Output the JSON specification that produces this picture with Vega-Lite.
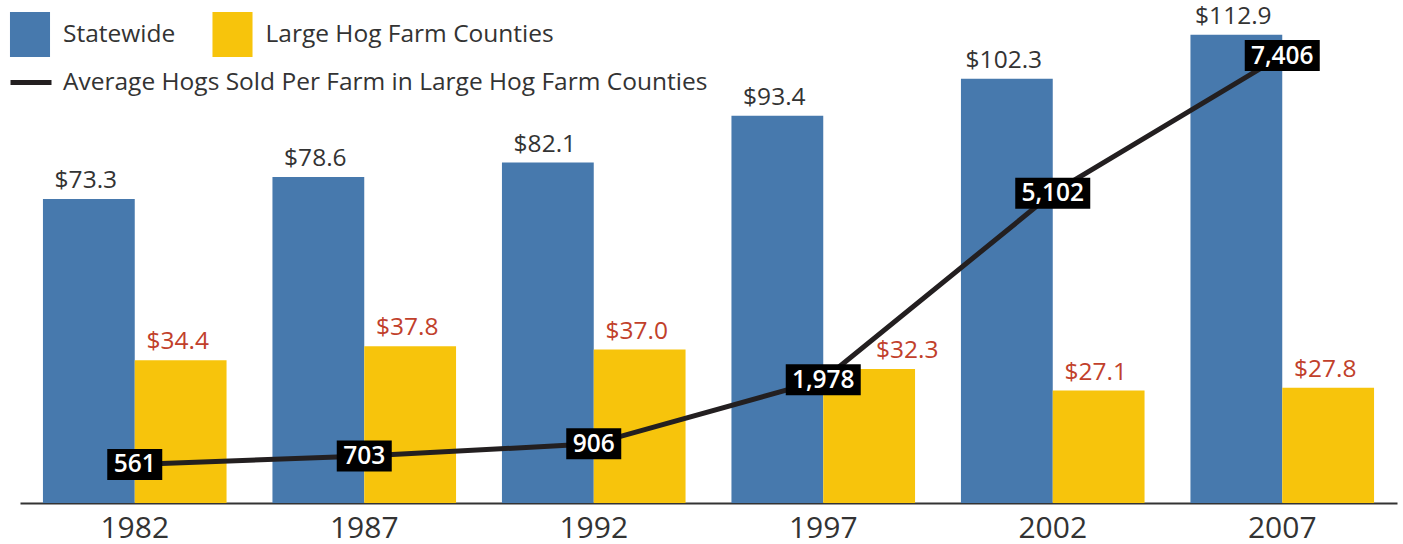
{
  "$schema": "https://vega.github.io/schema/vega-lite/v6.json",
  "width": 1377,
  "height": 503,
  "autosize": {"type": "none"},
  "padding": {"left": 20, "top": 0, "right": 6, "bottom": 41},
  "background": "white",
  "config": {
    "view": {"stroke": null},
    "font": "Open Sans",
    "legend": {"padding": 0, "titlePadding": 0}
  },
  "datasets": {
    "income": [
      {"year": "1982", "series": "Statewide", "value": 73.3},
      {"year": "1982", "series": "Large Hog Farm Counties", "value": 34.4},
      {"year": "1987", "series": "Statewide", "value": 78.6},
      {"year": "1987", "series": "Large Hog Farm Counties", "value": 37.8},
      {"year": "1992", "series": "Statewide", "value": 82.1},
      {"year": "1992", "series": "Large Hog Farm Counties", "value": 37.0},
      {"year": "1997", "series": "Statewide", "value": 93.4},
      {"year": "1997", "series": "Large Hog Farm Counties", "value": 32.3},
      {"year": "2002", "series": "Statewide", "value": 102.3},
      {"year": "2002", "series": "Large Hog Farm Counties", "value": 27.1},
      {"year": "2007", "series": "Statewide", "value": 112.9},
      {"year": "2007", "series": "Large Hog Farm Counties", "value": 27.8}
    ],
    "hogs": [
      {"year": "1982", "hogs": 561, "name": "Average Hogs Sold Per Farm in Large Hog Farm Counties"},
      {"year": "1987", "hogs": 703, "name": "Average Hogs Sold Per Farm in Large Hog Farm Counties"},
      {"year": "1992", "hogs": 906, "name": "Average Hogs Sold Per Farm in Large Hog Farm Counties"},
      {"year": "1997", "hogs": 1978, "name": "Average Hogs Sold Per Farm in Large Hog Farm Counties"},
      {"year": "2002", "hogs": 5102, "name": "Average Hogs Sold Per Farm in Large Hog Farm Counties"},
      {"year": "2007", "hogs": 7406, "name": "Average Hogs Sold Per Farm in Large Hog Farm Counties"}
    ]
  },
  "encoding": {
    "x": {
      "field": "year",
      "type": "nominal",
      "scale": {"paddingInner": 0.2, "paddingOuter": 0.1},
      "axis": {
        "title": null,
        "labelAngle": 0,
        "labelFontSize": 30,
        "labelColor": "#333333",
        "labelPadding": 10,
        "ticks": false,
        "tickSize": 0,
        "domainColor": "#333333",
        "domainWidth": 2,
        "grid": false
      }
    }
  },
  "layer": [
    {
      "data": {"name": "income"},
      "encoding": {
        "xOffset": {"field": "series", "type": "nominal", "sort": ["Statewide", "Large Hog Farm Counties"], "scale": {"paddingInner": 0, "paddingOuter": 0}},
        "y": {"field": "value", "type": "quantitative", "stack": null, "scale": {"domain": [0, 121.3], "nice": false, "zero": true}, "axis": null}
      },
      "layer": [
        {
          "mark": {"type": "bar"},
          "encoding": {
            "color": {
              "field": "series",
              "type": "nominal",
              "sort": ["Statewide", "Large Hog Farm Counties"],
              "scale": {"domain": ["Statewide", "Large Hog Farm Counties"], "range": ["#4779ad", "#f7c40c"]},
              "legend": {
                "title": null,
                "orient": "none",
                "direction": "horizontal",
                "legendX": -12.5,
                "legendY": 12,
                "symbolType": "M-0.89,-1H0.89V1H-0.89Z",
                "symbolSize": 2025,
                "symbolStrokeWidth": 0,
                "symbolOpacity": 1,
                "labelFontSize": 24.5,
                "labelFont": "Open Sans",
                "labelColor": "#333333",
                "labelOffset": 10.5,
                "columnPadding": 34.5,
                "labelLimit": 0
              }
            }
          }
        },
        {
          "mark": {
            "type": "text",
            "baseline": "alphabetic",
            "dy": -11,
            "dx": {"expr": "datum.year === '1997' && datum.series === 'Large Hog Farm Counties' ? 38 : -3"},
            "fontSize": 24.5,
            "font": "Open Sans"
          },
          "encoding": {
            "text": {"field": "value", "type": "quantitative", "format": "$.1f"},
            "color": {
              "condition": {"test": "datum.series === 'Statewide'", "value": "#333333"},
              "value": "#c1402b"
            }
          }
        }
      ]
    },
    {
      "data": {"name": "hogs"},
      "encoding": {
        "y": {"field": "hogs", "type": "quantitative", "scale": {"domain": [-84, 8335], "nice": false, "zero": false}, "axis": null}
      },
      "layer": [
        {
          "mark": {"type": "line", "strokeWidth": 5},
          "encoding": {
            "stroke": {
              "field": "name",
              "type": "nominal",
              "scale": {"range": ["#231f20"]},
              "legend": {
                "title": null,
                "orient": "none",
                "legendX": -12,
                "legendY": 59.5,
                "symbolType": "stroke",
                "symbolSize": 1681,
                "symbolStrokeWidth": 5,
                "labelFontSize": 24.5,
                "labelFont": "Open Sans",
                "labelColor": "#333333",
                "labelOffset": 9,
                "labelLimit": 0
              }
            }
          }
        },
        {
          "mark": {"type": "bar", "fill": "black", "yOffset": -15.5, "y2Offset": 15.5},
          "encoding": {
            "y2": {"field": "hogs"},
            "size": {"condition": {"test": "datum.hogs < 1000", "value": 55}, "value": 75}
          }
        },
        {
          "mark": {"type": "text", "baseline": "middle", "fontSize": 24.5, "fontWeight": 600, "font": "Open Sans", "fill": "white", "dy": 1},
          "encoding": {
            "text": {"field": "hogs", "type": "quantitative", "format": ",d"}
          }
        }
      ]
    }
  ],
  "resolve": {"scale": {"y": "independent"}, "axis": {"y": "independent"}}
}
